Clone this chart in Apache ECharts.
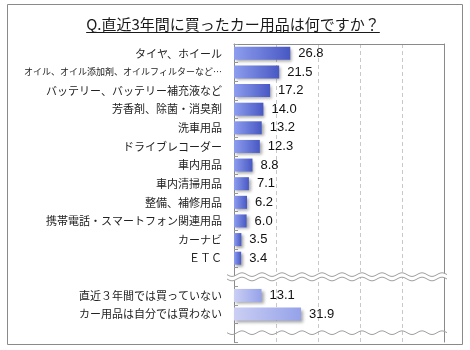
<!DOCTYPE html>
<html>
<head>
<meta charset="utf-8">
<script src="https://cdn.jsdelivr.net/npm/echarts@6/dist/echarts.min.js"></script>
<style>
  html, body { margin: 0; padding: 0; background: #fff; }
  #chart { width: 470px; height: 350px; }
</style>
</head>
<body>
<div id="chart"></div>
<script>
// Survey: car goods bought in the last 3 years (%, multiple answers)
const titleText = 'Q.直近3年間に買ったカー用品は何ですか？';

const itemLabels = [
  'タイヤ、ホイール',
  'オイル、オイル添加剤、オイルフィルターなど…',
  'バッテリー、バッテリー補充液など',
  '芳香剤、除菌・消臭剤',
  '洗車用品',
  'ドライブレコーダー',
  '車内用品',
  '車内清掃用品',
  '整備、補修用品',
  '携帯電話・スマートフォン関連用品',
  'カーナビ',
  'ＥＴＣ'
];
const itemValues = [26.8, 21.5, 17.2, 14.0, 13.2, 12.3, 8.8, 7.1, 6.2, 6.0, 3.5, 3.4];

const otherLabels = ['直近３年間では買っていない', 'カー用品は自分では買わない'];
const otherValues = [13.1, 31.9];

const axisMin = 0, axisMax = 100, axisStep = 20;

// Rows: items, a break row, the two other answers, a trailing break row
const categories = [...itemLabels, '', ...otherLabels, ''];
const breakRows = [itemLabels.length, categories.length - 1];

const itemData = categories.map((c, i) => i < itemValues.length ? itemValues[i] : null);
const otherData = categories.map((c, i) => {
  const k = i - itemLabels.length - 1;
  return (k >= 0 && k < otherValues.length) ? otherValues[k] : null;
});

const FONT = "'Noto Sans CJK JP', 'Noto Sans', sans-serif";

const yData = categories.map(c => {
  // the long oil label gets a smaller size so it fits the left margin
  if (c.length > 18) return { value: c, textStyle: { fontSize: 9 } };
  return c;
});

const chart = echarts.init(document.getElementById('chart'), null, { renderer: 'canvas' });

const valueLabel = {
  show: true,
  position: 'right',
  distance: 8,
  fontSize: 13,
  color: '#111',
  fontFamily: "'Liberation Sans', 'Noto Sans', sans-serif",
  formatter: p => p.value == null ? '' : Number(p.value).toFixed(1)
};

const barShadow = {
  shadowColor: 'rgba(0,0,0,0.35)',
  shadowBlur: 3,
  shadowOffsetX: 2,
  shadowOffsetY: 2
};

chart.setOption({
  animation: false,
  backgroundColor: '#fff',
  grid: { left: 234, right: 26, top: 44, bottom: 8, containLabel: false },
  xAxis: {
    type: 'value',
    position: 'top',
    min: axisMin,
    max: axisMax,
    interval: axisStep,
    axisLine: { show: true, lineStyle: { color: '#8a8a8a', width: 1 } },
    axisTick: { show: false },
    axisLabel: { show: false },
    splitLine: { show: true, lineStyle: { color: '#c8c8c8', type: [4, 3], width: 1 } }
  },
  yAxis: [{
    type: 'category',
    inverse: true,
    data: yData,
    axisLine: { show: true, lineStyle: { color: '#8a8a8a', width: 1 } },
    axisTick: { show: true, inside: true, length: 4, lineStyle: { color: '#9a9a9a' } },
    axisLabel: { margin: 12, fontSize: 11, color: '#222', fontFamily: FONT }
  }, {
    type: 'category',
    inverse: true,
    position: 'right',
    data: categories,
    axisLine: { show: true, lineStyle: { color: '#8a8a8a', width: 1 } },
    axisTick: { show: false },
    axisLabel: { show: false }
  }],
  series: [{
    type: 'bar',
    yAxisIndex: 0,
    data: itemData,
    barWidth: 13,
    barGap: '-100%',
    itemStyle: Object.assign({
      color: new echarts.graphic.LinearGradient(0, 0, 1, 0, [
        { offset: 0, color: '#8d9dee' },
        { offset: 1, color: '#4858c4' }
      ])
    }, barShadow),
    label: valueLabel
  }, {
    type: 'bar',
    yAxisIndex: 0,
    data: otherData,
    barWidth: 13,
    barGap: '-100%',
    itemStyle: Object.assign({
      color: new echarts.graphic.LinearGradient(0, 0, 1, 0, [
        { offset: 0, color: '#cbcff3' },
        { offset: 1, color: '#95a2ea' }
      ])
    }, barShadow),
    label: valueLabel
  }]
});

// Measure the title so it can be underlined
const measureCtx = document.createElement('canvas').getContext('2d');
measureCtx.font = `15px ${FONT}`;
const titleWidth = measureCtx.measureText(titleText).width;

function wavePoints(x0, x1, y, amp, period) {
  const pts = [];
  for (let x = x0; x <= x1; x += 1) {
    pts.push([x, y + amp * Math.sin((x - x0) / period * Math.PI * 2)]);
  }
  return pts;
}

const xLeft = chart.convertToPixel({ xAxisIndex: 0 }, axisMin);
const xRight = chart.convertToPixel({ xAxisIndex: 0 }, axisMax);
const waveElems = [];
breakRows.forEach((row, idx) => {
  const yc = chart.convertToPixel({ yAxisIndex: 0 }, row);
  const x0 = xLeft - 7, x1 = xRight + 3;
  if (idx === 0) {
    const top = wavePoints(x0, x1, yc - 2.2, 1.8, 20);
    const bot = wavePoints(x0, x1, yc + 2.2, 1.8, 20);
    waveElems.push({
      type: 'polygon',
      shape: { points: top.concat(bot.slice().reverse()) },
      style: { fill: '#fff', stroke: null },
      z: 50
    });
    [top, bot].forEach(p => waveElems.push({
      type: 'polyline',
      shape: { points: p, smooth: 0 },
      style: { stroke: '#a0a0a0', lineWidth: 1, fill: null },
      z: 51
    }));
  } else {
    waveElems.push({
      type: 'polyline',
      shape: { points: wavePoints(x0, x1, yc, 1.8, 20), smooth: 0 },
      style: { stroke: '#a0a0a0', lineWidth: 1, fill: null },
      z: 51
    });
  }
});

const W = chart.getWidth(), H = chart.getHeight();
const titleCx = W / 2 - 2;

chart.setOption({
  graphic: [
    {
      type: 'rect',
      shape: { x: 7.5, y: 4.5, width: W - 15, height: H - 10 },
      style: { fill: null, stroke: '#8a8a8a', lineWidth: 1 },
      z: 60
    },
    {
      type: 'text',
      x: titleCx,
      y: 24,
      style: {
        text: titleText,
        font: `15px ${FONT}`,
        fill: '#1a1a1a',
        align: 'center',
        verticalAlign: 'middle'
      },
      z: 60
    },
    {
      type: 'line',
      shape: { x1: titleCx - titleWidth / 2, y1: 32.5, x2: titleCx + titleWidth / 2, y2: 32.5 },
      style: { stroke: '#1a1a1a', lineWidth: 1 },
      z: 60
    },
    ...waveElems
  ]
});
</script>
</body>
</html>
